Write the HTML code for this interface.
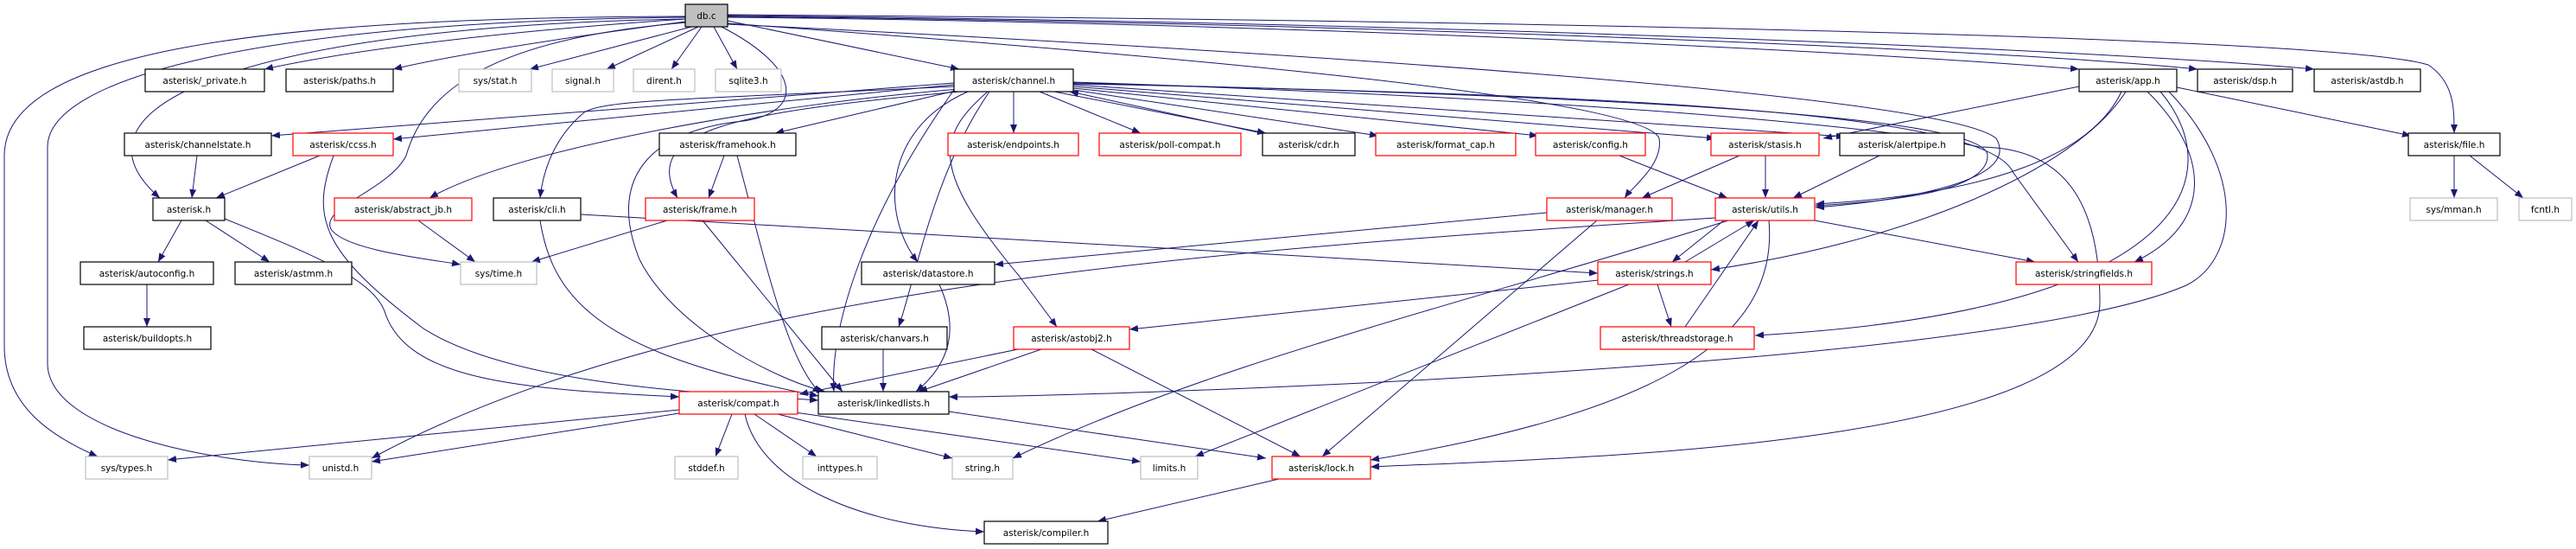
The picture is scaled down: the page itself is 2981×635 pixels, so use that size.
<!DOCTYPE html>
<html><head><meta charset="utf-8"><style>
html,body{margin:0;padding:0;background:#fff;}
svg{display:block;}
text{font-family:"DejaVu Sans","Liberation Sans",sans-serif;font-size:10.5px;fill:#000;}
.b{fill:#fff;stroke:#000;stroke-width:1.2;}
.r{fill:#fff;stroke:#ff0000;stroke-width:1.2;}
.g{fill:#fff;stroke:#bfbfbf;stroke-width:1.2;}
.e{fill:none;stroke:#191970;stroke-width:1;}
</style></head><body>
<svg width="2981" height="635" viewBox="0 0 2981 635" xmlns="http://www.w3.org/2000/svg">
<defs><marker id="a" markerWidth="10" markerHeight="8" refX="10" refY="4" orient="auto" markerUnits="userSpaceOnUse"><path d="M0,0 L10,4 L0,8 z" fill="#191970"/></marker></defs>
<g class="e" marker-end="url(#a)">
<!-- db.c -->
<path d="M793,22 C600,35 420,55 306,80"/>
<path d="M793,25 C680,40 540,60 455,80"/>
<path d="M800,31 L613,80"/>
<path d="M808,31 L702,80"/>
<path d="M812,31 L777,80"/>
<path d="M826,31 L853,80"/>
<path d="M842,24 L1110,80"/>
<path d="M842,20 C1400,25 2100,55 2406,80"/>
<path d="M842,19 C1500,25 2300,55 2543,80"/>
<path d="M842,18 C1600,25 2400,55 2678,80"/>
<path d="M842,17 C1600,22 2700,40 2810,75 C2840,95 2840,125 2840,154"/>
<path d="M793,22 C300,30 60,120 185,229"/>
<path d="M793,19 C300,20 5,60 5,180 L5,400 C5,470 60,505 113,528"/>
<path d="M793,20 C300,25 55,90 55,170 L55,420 C55,500 250,536 358,538"/>
<path d="M795,26 C560,45 490,110 470,180 C450,220 370,240 383,265 C400,290 500,300 533,306"/>
<path d="M835,31 C930,80 930,130 860,140 C760,150 700,200 740,300 C780,380 900,440 955,453"/>
<path d="M842,27 C1300,60 1900,110 1920,160 C1925,190 1890,215 1880,229"/>
<path d="M842,28 C1500,60 2250,110 2310,160 C2340,210 2200,232 2101,240"/>
<!-- channel.h -->
<path d="M1104,96 L314,157"/>
<path d="M1104,98 L455,161"/>
<path d="M1110,103 C900,120 600,170 497,229"/>
<path d="M1104,100 C800,115 700,115 676,130 C640,160 628,200 625,229"/>
<path d="M1110,106 C850,130 740,150 784,229"/>
<path d="M1110,104 L897,154"/>
<path d="M1120,106 C1020,150 1020,250 1062,303"/>
<path d="M1145,106 C1080,200 1060,320 1040,378"/>
<path d="M1143,106 C1080,160 1080,200 1180,320 L1223,378"/>
<path d="M1104,104 C1000,250 960,380 965,453"/>
<path d="M1173,106 L1173,154"/>
<path d="M1203,106 L1320,154"/>
<path d="M1220,106 L1465,154"/>
<path d="M1460,154 L1238,106"/>
<path d="M1242,104 L1595,157"/>
<path d="M1242,102 L1780,157"/>
<path d="M1242,100 L1985,160"/>
<path d="M1242,98 L2135,158"/>
<path d="M1242,96 C1800,110 2300,130 2300,180 C2300,220 2200,232 2101,238"/>
<path d="M1242,97 C1900,110 2300,130 2330,200 L2405,303"/>
<path d="M1242,95 C2000,120 2250,160 2290,170 C2400,170 2430,250 2430,350 C2430,520 1800,530 1586,540"/>
<!-- others -->
<path d="M228,180 L222,229"/>
<path d="M370,180 L250,229"/>
<path d="M386,180 C360,250 370,290 490,380 C600,450 850,456 947,463"/>
<path d="M210,255 L183,303"/>
<path d="M238,255 L312,303"/>
<path d="M260,253 C350,290 430,320 445,360 C470,440 600,450 786,459"/>
<path d="M170,329 L170,378"/>
<path d="M484,255 L550,303"/>
<path d="M772,255 L615,303"/>
<path d="M813,255 L975,453"/>
<path d="M838,180 L820,229"/>
<path d="M853,180 C880,280 910,420 950,455"/>
<path d="M625,255 C640,350 700,410 947,458"/>
<path d="M672,248 L1849,316"/>
<path d="M1874,180 L1999,229"/>
<path d="M2013,180 L1900,229"/>
<path d="M2043,180 L2043,229"/>
<path d="M2175,180 L2075,229"/>
<path d="M1790,246 L1151,306"/>
<path d="M1848,255 L1530,528"/>
<path d="M1995,255 L1935,303"/>
<path d="M1950,303 L2030,255"/>
<path d="M2100,255 L2355,303"/>
<path d="M2047,255 C2060,400 1900,480 1586,532"/>
<path d="M1985,252 C1400,290 800,330 430,530"/>
<path d="M2000,255 C1700,350 1400,420 1172,530"/>
<path d="M1850,324 L1307,381"/>
<path d="M1918,329 L1934,378"/>
<path d="M1885,329 L1383,528"/>
<path d="M1950,378 L2035,255"/>
<path d="M2406,100 L2110,160"/>
<path d="M2455,106 C2420,180 2300,225 2101,236"/>
<path d="M2460,106 C2400,200 2200,280 1980,312"/>
<path d="M2485,106 C2560,180 2560,260 2470,303"/>
<path d="M2500,106 C2580,200 2540,360 2031,388"/>
<path d="M2510,106 C2600,200 2590,300 2530,330 C2300,430 1200,460 1098,459"/>
<path d="M2519,101 L2790,157"/>
<path d="M2840,180 L2840,229"/>
<path d="M2858,180 L2920,229"/>
<path d="M1087,329 C1110,380 1100,420 1060,453"/>
<path d="M1022,404 L1022,453"/>
<path d="M1178,404 L925,456"/>
<path d="M1205,404 L1063,453"/>
<path d="M1263,404 L1505,528"/>
<path d="M1098,476 L1465,530"/>
<path d="M786,474 L194,532"/>
<path d="M786,478 L430,534"/>
<path d="M847,479 L828,528"/>
<path d="M873,479 L945,528"/>
<path d="M900,479 L1102,530"/>
<path d="M920,477 L1320,534"/>
<path d="M862,479 C880,560 1000,610 1139,615"/>
<path d="M1480,554 L1270,603"/>
</g>
<!-- nodes -->
<g>
<rect x="793" y="5" width="49" height="26" fill="#bfbfbf" stroke="#000" stroke-width="1.2"/><text x="817.5" y="22" text-anchor="middle">db.c</text>
<rect class="b" x="168" y="80" width="138" height="26"/><text x="237" y="97" text-anchor="middle">asterisk/_private.h</text>
<rect class="b" x="331" y="80" width="124" height="26"/><text x="393" y="97" text-anchor="middle">asterisk/paths.h</text>
<rect class="g" x="531" y="80" width="84" height="26"/><text x="573" y="97" text-anchor="middle">sys/stat.h</text>
<rect class="g" x="639" y="80" width="71" height="26"/><text x="674.5" y="97" text-anchor="middle">signal.h</text>
<rect class="g" x="733" y="80" width="71" height="26"/><text x="768.5" y="97" text-anchor="middle">dirent.h</text>
<rect class="g" x="828" y="80" width="76" height="26"/><text x="866" y="97" text-anchor="middle">sqlite3.h</text>
<rect class="b" x="1104" y="80" width="138" height="26"/><text x="1173" y="97" text-anchor="middle">asterisk/channel.h</text>
<rect class="b" x="2406" y="80" width="113" height="26"/><text x="2462.5" y="97" text-anchor="middle">asterisk/app.h</text>
<rect class="b" x="2543" y="80" width="110" height="26"/><text x="2598" y="97" text-anchor="middle">asterisk/dsp.h</text>
<rect class="b" x="2678" y="80" width="123" height="26"/><text x="2739.5" y="97" text-anchor="middle">asterisk/astdb.h</text>

<rect class="b" x="144" y="154" width="170" height="26"/><text x="229" y="171" text-anchor="middle">asterisk/channelstate.h</text>
<rect class="r" x="339" y="154" width="116" height="26"/><text x="397" y="171" text-anchor="middle">asterisk/ccss.h</text>
<rect class="b" x="763" y="154" width="158" height="26"/><text x="842" y="171" text-anchor="middle">asterisk/framehook.h</text>
<rect class="r" x="1097" y="154" width="151" height="26"/><text x="1172.5" y="171" text-anchor="middle">asterisk/endpoints.h</text>
<rect class="r" x="1272" y="154" width="164" height="26"/><text x="1354" y="171" text-anchor="middle">asterisk/poll-compat.h</text>
<rect class="b" x="1461" y="154" width="107" height="26"/><text x="1514.5" y="171" text-anchor="middle">asterisk/cdr.h</text>
<rect class="r" x="1592" y="154" width="162" height="26"/><text x="1673" y="171" text-anchor="middle">asterisk/format_cap.h</text>
<rect class="r" x="1777" y="154" width="127" height="26"/><text x="1840.5" y="171" text-anchor="middle">asterisk/config.h</text>
<rect class="r" x="1980" y="154" width="125" height="26"/><text x="2042.5" y="171" text-anchor="middle">asterisk/stasis.h</text>
<rect class="b" x="2129" y="154" width="144" height="26"/><text x="2201" y="171" text-anchor="middle">asterisk/alertpipe.h</text>
<rect class="b" x="2787" y="154" width="106" height="26"/><text x="2840" y="171" text-anchor="middle">asterisk/file.h</text>

<rect class="b" x="177" y="229" width="83" height="26"/><text x="218.5" y="246" text-anchor="middle">asterisk.h</text>
<rect class="r" x="387" y="229" width="159" height="26"/><text x="466.5" y="246" text-anchor="middle">asterisk/abstract_jb.h</text>
<rect class="b" x="571" y="229" width="101" height="26"/><text x="621.5" y="246" text-anchor="middle">asterisk/cli.h</text>
<rect class="r" x="747" y="229" width="126" height="26"/><text x="810" y="246" text-anchor="middle">asterisk/frame.h</text>
<rect class="r" x="1790" y="229" width="145" height="26"/><text x="1862.5" y="246" text-anchor="middle">asterisk/manager.h</text>
<rect class="r" x="1985" y="229" width="115" height="26"/><text x="2042.5" y="246" text-anchor="middle">asterisk/utils.h</text>
<rect class="g" x="2789" y="229" width="101" height="26"/><text x="2839.5" y="246" text-anchor="middle">sys/mman.h</text>
<rect class="g" x="2915" y="229" width="61" height="26"/><text x="2945.5" y="246" text-anchor="middle">fcntl.h</text>

<rect class="b" x="93" y="303" width="154" height="26"/><text x="170" y="320" text-anchor="middle">asterisk/autoconfig.h</text>
<rect class="b" x="272" y="303" width="135" height="26"/><text x="339.5" y="320" text-anchor="middle">asterisk/astmm.h</text>
<rect class="g" x="533" y="303" width="88" height="26"/><text x="577" y="320" text-anchor="middle">sys/time.h</text>
<rect class="b" x="997" y="303" width="154" height="26"/><text x="1074" y="320" text-anchor="middle">asterisk/datastore.h</text>
<rect class="r" x="1849" y="303" width="131" height="26"/><text x="1914.5" y="320" text-anchor="middle">asterisk/strings.h</text>
<rect class="r" x="2333" y="303" width="157" height="26"/><text x="2411.5" y="320" text-anchor="middle">asterisk/stringfields.h</text>

<rect class="b" x="97" y="378" width="147" height="26"/><text x="170.5" y="395" text-anchor="middle">asterisk/buildopts.h</text>
<rect class="b" x="951" y="378" width="145" height="26"/><text x="1023.5" y="395" text-anchor="middle">asterisk/chanvars.h</text>
<rect class="r" x="1173" y="378" width="134" height="26"/><text x="1240" y="395" text-anchor="middle">asterisk/astobj2.h</text>
<rect class="r" x="1852" y="378" width="178" height="26"/><text x="1941" y="395" text-anchor="middle">asterisk/threadstorage.h</text>

<rect class="r" x="786" y="453" width="137" height="26"/><text x="854.5" y="470" text-anchor="middle">asterisk/compat.h</text>
<rect class="b" x="947" y="453" width="151" height="26"/><text x="1022.5" y="470" text-anchor="middle">asterisk/linkedlists.h</text>

<rect class="g" x="99" y="528" width="95" height="26"/><text x="146.5" y="545" text-anchor="middle">sys/types.h</text>
<rect class="g" x="358" y="528" width="72" height="26"/><text x="394" y="545" text-anchor="middle">unistd.h</text>
<rect class="g" x="781" y="528" width="73" height="26"/><text x="817.5" y="545" text-anchor="middle">stddef.h</text>
<rect class="g" x="929" y="528" width="86" height="26"/><text x="972" y="545" text-anchor="middle">inttypes.h</text>
<rect class="g" x="1102" y="528" width="70" height="26"/><text x="1137" y="545" text-anchor="middle">string.h</text>
<rect class="g" x="1320" y="528" width="66" height="26"/><text x="1353" y="545" text-anchor="middle">limits.h</text>
<rect class="r" x="1472" y="528" width="114" height="26"/><text x="1529" y="545" text-anchor="middle">asterisk/lock.h</text>
<rect class="b" x="1139" y="603" width="143" height="26"/><text x="1210.5" y="620" text-anchor="middle">asterisk/compiler.h</text>
</g>
</svg>
</body></html>
